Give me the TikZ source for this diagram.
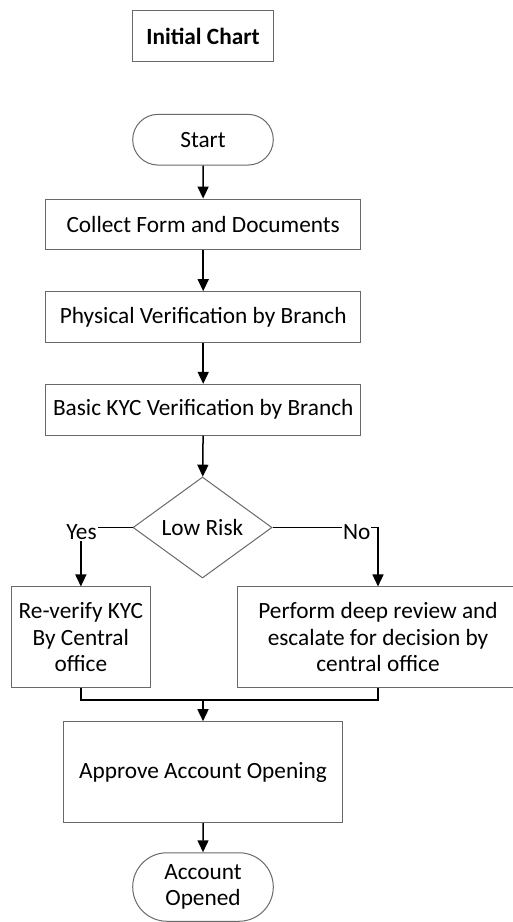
\documentclass[tikz,border=0pt]{standalone}
\usepackage{fontspec}
\setmainfont{Carlito}
\usetikzlibrary{arrows.meta,shapes.geometric,shapes.misc}
\definecolor{boxline}{RGB}{105,105,105}
\tikzset{
  txt/.style={font=\fontsize{23.3}{26.5}\selectfont, align=center, text=black},
  boxnode/.style={txt, draw=boxline, line width=1pt, rectangle, inner sep=0pt},
  termnode/.style={txt, draw=boxline, line width=1pt, rounded rectangle, inner sep=0pt},
  decnode/.style={txt, draw=boxline, line width=1pt, diamond, inner sep=0pt},
  flow/.style={draw=black, line width=1.5pt, -{Triangle[width=11pt,length=12pt]}},
  mergeline/.style={draw=black, line width=1.5pt},
  branchlbl/.style={txt, fill=white, inner sep=1pt}
}
\begin{document}
\begin{tikzpicture}[x=1pt,y=-1pt]
\useasboundingbox (0,0) rectangle (513,922);
\begin{scope}
\clip (0,0) rectangle (513,922);

% title
\node[boxnode, font=\fontsize{23.3}{26.5}\selectfont\bfseries, minimum width=140.6pt, minimum height=51pt] (title) at (203,36.2) {Initial Chart};

% main column
\node[termnode, minimum width=140.6pt, minimum height=50.7pt] (start) at (203,139.7) {Start};
\node[boxnode, minimum width=315pt, minimum height=50.3pt] (collect) at (203.2,224.2) {Collect Form and Documents};
\node[boxnode, minimum width=315pt, minimum height=50.6pt] (phys) at (203.2,317) {Physical Verification by Branch};
\node[boxnode, minimum width=315pt, minimum height=50.7pt] (kyc) at (203.2,409.7) {Basic KYC Verification by Branch};
\node[decnode, minimum width=139pt, minimum height=101pt, aspect=1.376] (risk) at (202.5,527.5) {Low Risk};

% branches
\node[boxnode, minimum width=139.7pt, minimum height=100.5pt] (reverify) at (80.85,637.2) {Re-verify KYC\\By Central\\office};
\node[boxnode, minimum width=280.6pt, minimum height=100.5pt] (perform) at (378,637.2) {Perform deep review and\\escalate for decision by\\central office};

% end
\node[boxnode, minimum width=279.4pt, minimum height=101pt] (approve) at (203,772.2) {Approve Account Opening};
\node[termnode, minimum width=140.6pt, minimum height=68.5pt] (opened) at (203,887) {Account\\Opened};

\coordinate (merge) at (203,700);

% connectors
\draw[flow] (start) -- (collect);
\draw[flow] (collect) -- (phys);
\draw[flow] (phys) -- (kyc);
\draw[flow] (kyc) -- (risk);
\draw[flow] (risk.west) -| (reverify.north);
\draw[flow] (risk.east) -| (perform.north);
\draw[mergeline] (reverify.south) |- (merge);
\draw[mergeline] (perform.south) |- (merge);
\draw[flow] (merge) -- (approve);
\draw[flow] (approve) -- (opened);

% branch labels
\node[branchlbl] (yes) at (81.5,532) {Yes};
\node[branchlbl] (no) at (356.7,532) {No};
\end{scope}
\end{tikzpicture}
\end{document}
